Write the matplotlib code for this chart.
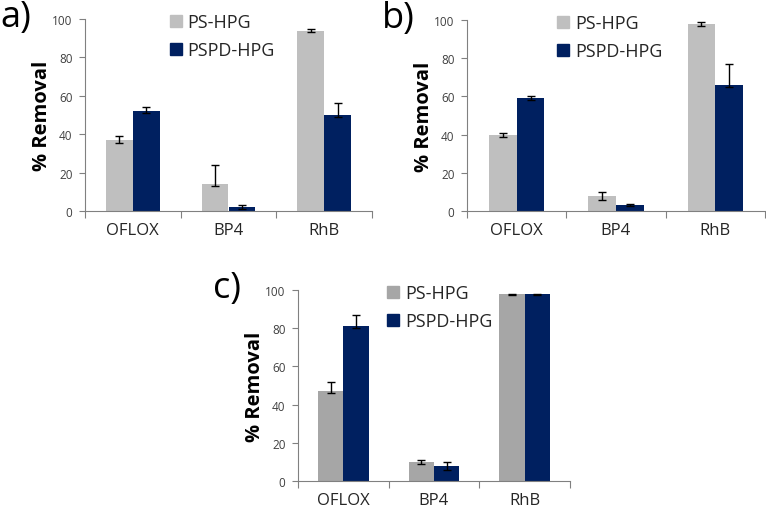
import matplotlib.pyplot as plt
import numpy as np
from matplotlib.lines import Line2D

plt.rcParams['font.family'] = ['Open Sans', 'DejaVu Sans']

categories = ["OFLOX", "BP4", "RhB"]
series_names = ["PS-HPG", "PSPD-HPG"]

# panel a
a_ps = [37, 14, 94]
a_ps_lo = [1.5, 1, 1]
a_ps_hi = [2, 10, 1]
a_pspd = [52, 2, 50]
a_pspd_lo = [1, 1, 1]
a_pspd_hi = [2, 1, 6]

# panel b
b_ps = [40, 8, 98]
b_ps_lo = [1, 2, 1]
b_ps_hi = [1, 2, 1]
b_pspd = [59, 3, 66]
b_pspd_lo = [1, 0.5, 1]
b_pspd_hi = [1, 0.5, 11]

# panel c
c_ps = [47, 10, 98]
c_ps_lo = [1, 1, 0.5]
c_ps_hi = [5, 1, 0]
c_pspd = [81, 8, 98]
c_pspd_lo = [1, 2, 0.5]
c_pspd_hi = [6, 2, 0]

navy = "#002060"
W, H = 766, 510


def panel(rect, ps, ps_err, pspd, pspd_err, gray, label, leg_x):
    l, r, t, b = rect
    ax = fig.add_axes([l / W, 1 - b / H, (r - l) / W, (b - t) / H])
    x = np.arange(len(categories)) + 0.5
    w = 0.28
    ek = dict(ecolor="black", elinewidth=1.0, capsize=3, capthick=1.0)
    ax.bar(x - w / 2, ps, w, color=gray, yerr=ps_err, error_kw=ek)
    ax.bar(x + w / 2, pspd, w, color=navy, yerr=pspd_err, error_kw=ek)
    ax.set_xlim(0, len(categories))
    ax.set_ylim(0, 100)
    ax.set_yticks(range(0, 101, 20))
    ax.set_xticks(np.arange(len(categories) + 1))
    ax.set_xticklabels([])
    ax.set_xticks(x, minor=True)
    ax.set_xticklabels(categories, minor=True, fontsize=12, color="#262626")
    ax.tick_params(axis="x", which="major", length=5, color="#808080")
    ax.tick_params(axis="x", which="minor", length=0, pad=8)
    ax.tick_params(axis="y", length=4, color="#808080", labelsize=8.5,
                   labelcolor="#404040", pad=5)
    for s in ["top", "right"]:
        ax.spines[s].set_visible(False)
    for s in ["left", "bottom"]:
        ax.spines[s].set_color("#808080")
    ax.set_ylabel("% Removal", fontsize=14.5, fontweight="bold", labelpad=0)
    handles = [Line2D([], [], marker="s", ls="", color=gray, markersize=8),
               Line2D([], [], marker="s", ls="", color=navy, markersize=8)]
    ax.legend(handles, series_names, loc="upper left",
              bbox_to_anchor=(leg_x, 1.115), frameon=False, fontsize=13,
              handlelength=0.6, handletextpad=0.35, labelspacing=0.55,
              labelcolor="#262626")
    fig.text((l - 85) / W, 1 - (t - 20) / H, label, fontsize=26,
             va="top", ha="left")
    return ax


fig = plt.figure(figsize=(7.66, 5.10), dpi=100)
panel((85, 372, 20, 212), a_ps, [a_ps_lo, a_ps_hi], a_pspd,
      [a_pspd_lo, a_pspd_hi], "#bfbfbf", "a)", 0.24)
panel((467, 765, 21, 212), b_ps, [b_ps_lo, b_ps_hi], b_pspd,
      [b_pspd_lo, b_pspd_hi], "#bfbfbf", "b)", 0.25)
panel((298, 570, 291, 482), c_ps, [c_ps_lo, c_ps_hi], c_pspd,
      [c_pspd_lo, c_pspd_hi], "#a6a6a6", "c)", 0.27)

fig.savefig("out.png", dpi=100)
